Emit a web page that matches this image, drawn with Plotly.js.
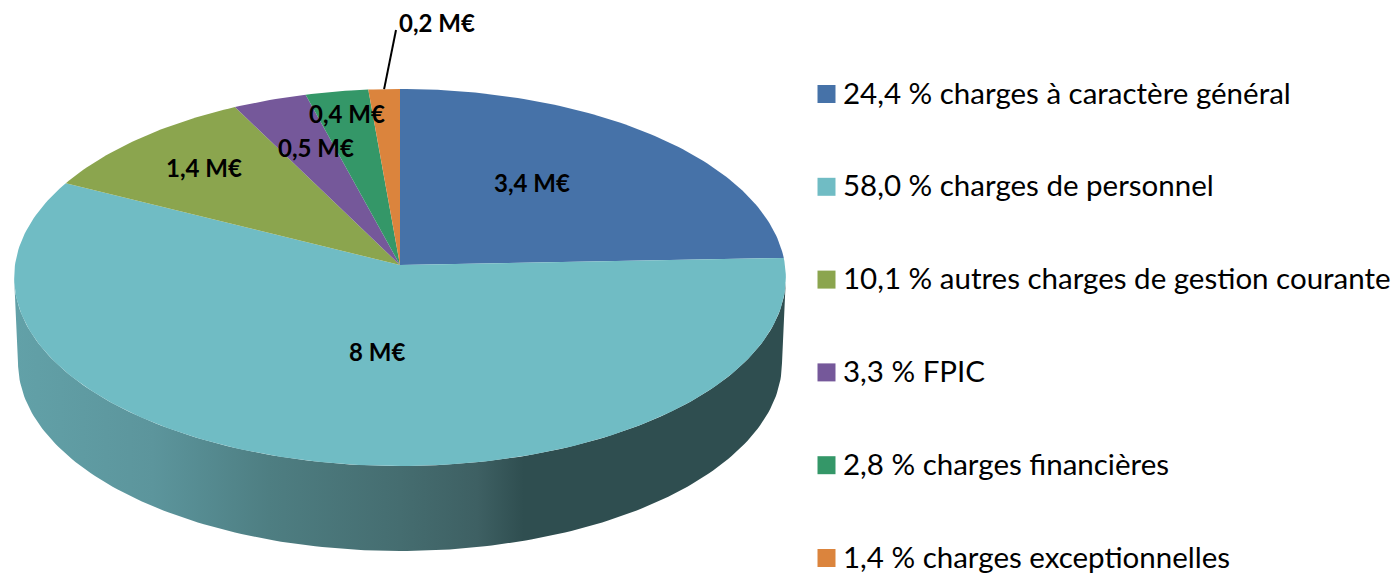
<!DOCTYPE html>
<html lang="fr">
<head>
<meta charset="utf-8">
<title>Charges</title>
<script src="https://cdn.plot.ly/plotly-3.0.1.min.js"></script>
<style>html,body{margin:0;padding:0;background:#fff;overflow:hidden}#chart{width:1396px;height:574px}text{font-variant-ligatures:none}</style>
</head>
<body>
<div id="chart"></div>
<script>
const categories = ["charges à caractère général","charges de personnel","autres charges de gestion courante","FPIC","charges financières","charges exceptionnelles"];
const percents = [24.4,58.0,10.1,3.3,2.8,1.4];
const percentLabels = ["24,4 %","58,0 %","10,1 %","3,3 %","2,8 %","1,4 %"];
const amountLabels = ["3,4 M€","8 M€","1,4 M€","0,5 M€","0,4 M€","0,2 M€"];
const sliceColors = ["#4672a8","#70bcc4","#8ba54e","#75589a","#349768","#db843d"];

// Perspective view of the round pie, expressed in axis units (axes span the page)
const apexX = 400, apexY = 265, radiusX = 385, radiusY = 187.7, tilt = 0.0663;
const depth = 85, bottomShrink = 0.99;
function rim(deg, drop, shrink){
  const a = deg*Math.PI/180, u = Math.sin(a), v = Math.cos(a), w = 1+tilt*v;
  return [apexX + radiusX*shrink*u/w, apexY - radiusY*v/w + drop];
}
function arc(from, to, drop, shrink){
  const pts = [], n = Math.max(2, Math.ceil(Math.abs(to-from)));
  for(let i=0;i<=n;i++) pts.push(rim(from+(to-from)*i/n, drop, shrink));
  return pts;
}

const traces = [];

// side wall
const wallLow = arc(94,266,depth,bottomShrink);
const wallTop = arc(266,94,0,1);
const wall = wallLow.concat(wallTop);
traces.push({
  type:"scatter", mode:"lines", x:wall.map(p=>p[0]), y:wall.map(p=>p[1]),
  fill:"toself", line:{width:0,color:"rgba(0,0,0,0)"}, showlegend:false, hoverinfo:"skip",
  fillgradient:{type:"horizontal", start:14, stop:786, colorscale:[
    [0,"#62a1a8"],[0.18,"#5c959c"],[0.24,"#568c92"],[0.33,"#4e7e82"],
    [0.5,"#456d70"],[0.6,"#3e6063"],[0.66,"#2f4e50"],[1,"#2f4e50"]]}
});

// top face slices
let cum = 0;
const total = percents.reduce((a,b)=>a+b,0);
const angles = [];
percents.forEach((p,i)=>{
  const from = cum/total*360; cum += p; const to = cum/total*360;
  angles.push([from,to]);
  const pts = [[apexX,apexY]].concat(arc(from,to,0,1)); pts.push([apexX,apexY]);
  traces.push({
    type:"scatter", mode:"lines", name:categories[i],
    x:pts.map(q=>q[0]), y:pts.map(q=>q[1]),
    fill:"toself", fillcolor:sliceColors[i], line:{width:0,color:sliceColors[i]},
    showlegend:false, hoverinfo:"text", text:percentLabels[i]+" "+categories[i]+" – "+amountLabels[i]
  });
});

// leader line for the smallest slice
const leaderStart = rim((angles[5][0]+angles[5][1])/2, 0, 1);
traces.push({type:"scatter", mode:"lines", x:[leaderStart[0],396], y:[leaderStart[1],30],
  line:{color:"#000",width:2}, showlegend:false, hoverinfo:"skip"});

// legend, placed beside the pie
const keyX = 826.5, keyTextX = 843, keyTop = 94, keyStep = 92.8;
const keyY = categories.map((c,i)=>keyTop+keyStep*i);
traces.push({type:"scatter", mode:"markers", x:categories.map(()=>keyX), y:keyY,
  marker:{symbol:"square", size:18, color:sliceColors}, showlegend:false, hoverinfo:"skip"});

const labelSpots = [[532,182],[377,351],[204,167],[316,147],[347,113],[437,22]];
const annotations = amountLabels.map((t,i)=>({
  x:labelSpots[i][0], y:labelSpots[i][1], xref:"x", yref:"y", text:"<b>"+t+"</b>",
  showarrow:false, xanchor:"center", yanchor:"middle",
  font:{family:"Lato, Carlito, sans-serif", size:24, color:"#000"}
})).concat(categories.map((c,i)=>({
  x:keyTextX, y:keyY[i]-2, xref:"x", yref:"y", text:percentLabels[i]+" "+c,
  showarrow:false, xanchor:"left", yanchor:"middle", borderpad:0, borderwidth:0,
  font:{family:"Lato, Carlito, sans-serif", size:29.5, color:"#000"}
})));

const layout = {
  width:1396, height:574, margin:{l:0,r:0,t:0,b:0},
  paper_bgcolor:"#fff", plot_bgcolor:"#fff",
  xaxis:{range:[0,1396],visible:false,fixedrange:true},
  yaxis:{range:[574,0],visible:false,fixedrange:true},
  showlegend:false,
  annotations:annotations
};
Plotly.newPlot("chart",traces,layout,{displayModeBar:false,responsive:false});
</script>
</body>
</html>
